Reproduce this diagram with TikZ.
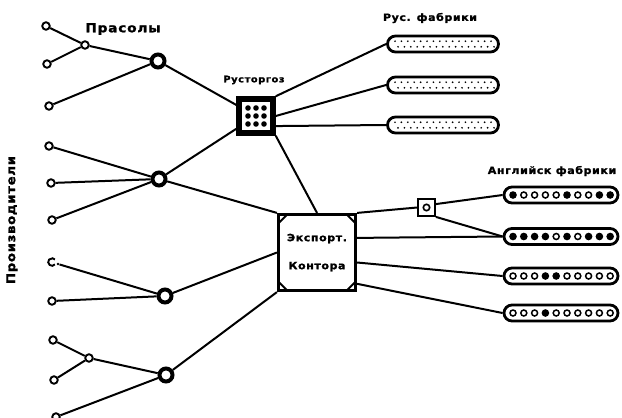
\documentclass[tikz,border=0pt]{standalone}
\usepackage{fontspec}
\setmainfont{DejaVu Sans}
\newfontfamily\lf{DejaVu Sans Bold}[FakeStretch=1.1,LetterSpace=6,FakeBold=1.5]
\usetikzlibrary{calc}
\begin{document}
\begin{tikzpicture}[x=1pt,y=-1pt,
  ln/.style={line width=2pt},
  sm/.style={circle,draw,line width=1.9pt,inner sep=0pt,minimum size=7.5pt,fill=white},
  hub/.style={circle,draw,line width=4pt,inner sep=0pt,minimum size=13pt,fill=white},
  lbl/.style={inner sep=0pt,font=\lf\fontsize{#1}{#1}\selectfont},
  rcap/.style={draw,line width=2.8pt,rounded corners=8pt,minimum width=111pt,minimum height=16pt,inner sep=0pt},
  ecap/.style={draw,line width=2.8pt,rounded corners=8pt,minimum width=114pt,minimum height=16pt,inner sep=0pt},
  crn/.style={line width=2pt}
]
\useasboundingbox (0,0) rectangle (622,418);
% labels
\node[lbl=12.5] (tpras) at (123,29) {Прасолы};
\node[lbl=9] (trt) at (254,80) {Русторгоз};
\node[lbl=10] (trf) at (430,18) {Рус. фабрики};
\node[lbl=10] (tef) at (552,171) {Английск фабрики};
\node[lbl=12,rotate=90] (tpr) at (12,220) {Производители};
% producers
\node[sm] (p1) at (46,26) {};
\node[sm] (p2) at (47,64) {};
\node[sm] (i1) at (85,45) {};
\node[sm] (p3) at (49,106) {};
\node[sm] (p4) at (49,146) {};
\node[sm] (p5) at (51,183) {};
\node[sm] (p6) at (52,220) {};
\draw[line width=1.9pt] (52,262) ++(40:3.8) arc (40:320:3.8);
\node[circle,fill,inner sep=0pt,minimum size=2.8pt] (p7) at (58,264) {};
\node[sm] (p8) at (52,301) {};
\node[sm] (p9) at (53,340) {};
\node[sm] (p10) at (54,380) {};
\node[sm] (i4) at (89,358) {};
\node[sm] (p11) at (56,417) {};
% hubs
\node[hub] (h1) at (158,61) {};
\node[hub] (h2) at (159,179) {};
\node[hub] (h3) at (165,296) {};
\node[hub] (h4) at (166,375) {};
% Russtorg
\node[draw,line width=5.5pt,minimum size=34pt,inner sep=0pt] (rt) at (256,116) {};
\foreach \dx in {-8,0,8} \foreach \dy in {-8,0,8}
  \fill ($(rt.center)+(\dx,\dy)$) circle (2.8);
% export office
\node[draw,line width=3.2pt,minimum width=77pt,minimum height=76pt,inner sep=0pt,
  align=center,font=\lf\fontsize{10}{28}\selectfont] (ex) at (317,252.5) {Экспорт.\\Контора};
\draw[crn] ($(ex.north west)+(2,10)$) -- ($(ex.north west)+(10,2)$);
\draw[crn] ($(ex.north east)+(-2,10)$) -- ($(ex.north east)+(-10,2)$);
\draw[crn] ($(ex.south west)+(2,-10)$) -- ($(ex.south west)+(10,-2)$);
\draw[crn] ($(ex.south east)+(-2,-10)$) -- ($(ex.south east)+(-10,-2)$);
% small square
\node[draw,line width=1.8pt,minimum size=17pt,inner sep=0pt] (sq) at (426.5,207.5) {};
\draw[line width=1.6pt] (sq.center) circle (3.2);
% Russian factories
\node[rcap] (rf1) at (443,44) {};
\node[rcap] (rf2) at (443,85) {};
\node[rcap] (rf3) at (443,125) {};
\foreach \c in {rf1,rf2,rf3} {
  \foreach \k in {0,...,15} {
    \fill ($(\c.center)+({-48+\k*6.4},-2.8)$) circle (0.95);
    \fill ($(\c.center)+({-45+\k*6.4},2.8)$) circle (0.95);
  }
}
% English factories
\node[ecap] (ef1) at (561,195) {};
\node[ecap] (ef2) at (561,236.5) {};
\node[ecap] (ef3) at (561,276) {};
\node[ecap] (ef4) at (561,313) {};
\foreach \c/\pat in {ef1/{1,0,0,0,0,1,0,0,1,1},ef2/{1,1,1,1,0,1,0,1,1,1},ef3/{0,0,0,1,1,0,0,0,0,0},ef4/{0,0,0,1,0,0,0,0,0,0}} {
  \foreach \f [count=\i] in \pat {
    \ifnum\f=1
      \filldraw[line width=1.5pt] ($(\c.center)+({-48+(\i-1)*10.8},0)$) circle (3);
    \else
      \draw[line width=1.5pt] ($(\c.center)+({-48+(\i-1)*10.8},0)$) circle (3);
    \fi
  }
}
% connectors: producers
\draw[ln] (p1) -- (i1);
\draw[ln] (p2) -- (i1);
\draw[ln] (i1) -- (h1);
\draw[ln] (p3) -- (h1);
\draw[ln] (p4) -- (h2);
\draw[ln] (p5) -- (h2);
\draw[ln] (p6) -- (h2);
\draw[ln] (p7) -- (h3);
\draw[ln] (p8) -- (h3);
\draw[ln] (p9) -- (i4);
\draw[ln] (p10) -- (i4);
\draw[ln] (i4) -- (h4);
\draw[ln] (p11) -- (h4);
% hubs to centres
\draw[ln] (h1) -- (rt);
\draw[ln] (h2) -- (rt);
\draw[ln] (h2) -- (ex.north west);
\draw[ln] (h3) -- (ex.west);
\draw[ln] (h4) -- (ex.south west);
% Russtorg
\draw[ln] (rt.north east) -- (rf1.west);
\draw[ln] (rt.east) -- (rf2.west);
\draw[ln] (rt.-27) -- (rf3.west);
\draw[ln] (rt.south east) -- (ex.north);
% export
\draw[ln] (ex.north east) -- (sq.west);
\draw[ln] (sq.20) -- (ef1.west);
\draw[ln] (sq.south east) -- (ef2.west);
\draw[ln] (ex.20) -- (ef2.west);
\draw[ln] (ex.-14) -- (ef3.west);
\draw[ln] (ex.-38) -- (ef4.west);
\end{tikzpicture}
\end{document}
